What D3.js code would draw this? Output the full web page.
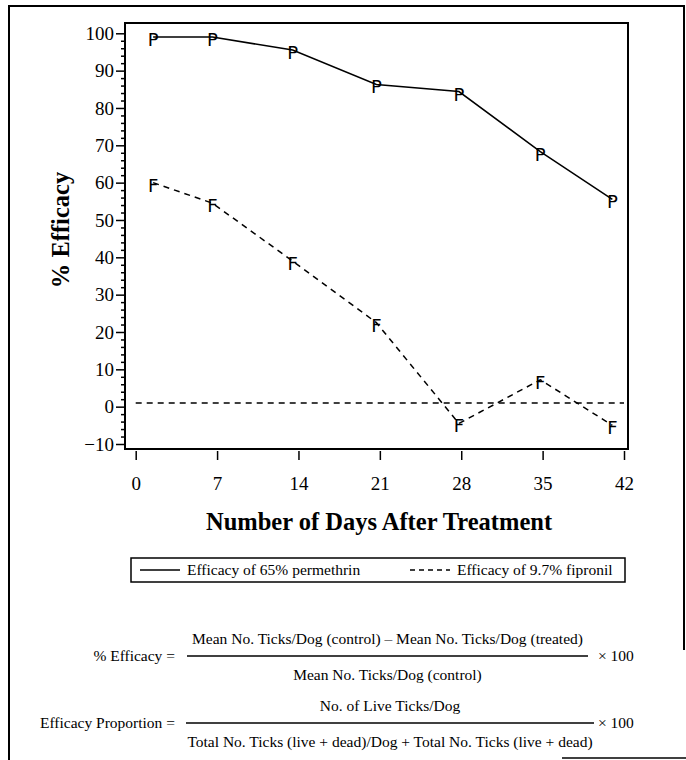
<!DOCTYPE html>
<meta charset="utf-8">
<style>
body {
	margin: 0;
	background: #fff;
}
svg text {
	font-family: "Liberation Serif", "DejaVu Serif", serif;
	fill: #000;
}
.frame {
	fill: none;
	stroke: #000;
	stroke-width: 2;
}
.axis text {
	font-size: 19px;
}
.axis line {
	stroke: #000;
	stroke-width: 1.5;
}
.axis path {
	display: none;
}
.title {
	font-size: 24.5px;
	font-weight: bold;
}
.series {
	fill: none;
	stroke: #000;
	stroke-width: 1.5;
}
.dashed {
	stroke-dasharray: 6, 5;
}
svg text.marker {
	font-family: "DejaVu Sans", sans-serif;
	font-size: 18px;
	text-anchor: middle;
}
.legend text, .formula text {
	font-size: 15.5px;
}
.bar {
	stroke: #000;
	stroke-width: 1.5;
}
</style>
<body>
<script src="https://d3js.org/d3.v7.min.js"></script>
<script>
	// values
	var days = [1.5, 6.6, 13.5, 20.7, 27.8, 34.8, 41];
	var permethrin = [99, 99, 95.5, 86.3, 84.4, 68.3, 55.5];
	var fipronil = [60, 54.5, 39, 22.5, -4.5, 7.2, -5];
	var refLevel = 1;
	var xTicks = [0, 7, 14, 21, 28, 35, 42];
	var yTicks = [-10, 0, 10, 20, 30, 40, 50, 60, 70, 80, 90, 100];
	var legendLabels = ["Efficacy of 65% permethrin", "Efficacy of 9.7% fipronil"];

	var width = 686,
		height = 760;

	var svg = d3.select("body").append("svg")
		.attr("width", width)
		.attr("height", height);

	var x = d3.scaleLinear().domain([0, 42]).range([135.7, 624]);
	var y = d3.scaleLinear().domain([-10, 100]).range([444, 33.3]);

	// outer border of the figure
	svg.append("path")
		.attr("class", "frame")
		.attr("d", "M9,760 V6 H684 V650");
	svg.append("line")
		.attr("class", "bar")
		.attr("x1", 562).attr("x2", 686)
		.attr("y1", 758).attr("y2", 758);

	// plot frame
	svg.append("rect")
		.attr("class", "frame")
		.attr("x", 125).attr("y", 23)
		.attr("width", 503).attr("height", 426);

	var minor = d3.range(-10, 100, 2).filter(function(v) { return v % 10 !== 0; });

	svg.append("g")
		.attr("class", "axis")
		.attr("transform", "translate(125,0)")
		.call(d3.axisLeft(y).tickValues(minor).tickSize(4).tickFormat(""));

	svg.append("g")
		.attr("class", "axis")
		.attr("transform", "translate(125,0)")
		.call(d3.axisLeft(y).tickValues(yTicks).tickSize(9).tickPadding(2));

	svg.append("g")
		.attr("class", "axis")
		.attr("transform", "translate(0,451)")
		.call(d3.axisBottom(x).tickValues(xTicks).tickSize(9).tickPadding(17));

	svg.append("text")
		.attr("class", "title")
		.attr("text-anchor", "middle")
		.attr("x", 379).attr("y", 530)
		.text("Number of Days After Treatment");

	svg.append("text")
		.attr("class", "title")
		.attr("text-anchor", "middle")
		.attr("transform", "translate(69,230) rotate(-90)")
		.text("% Efficacy");

	// reference line near zero
	svg.append("line")
		.attr("class", "series dashed")
		.attr("x1", x(0)).attr("x2", x(42))
		.attr("y1", y(refLevel)).attr("y2", y(refLevel));

	var line = d3.line()
		.x(function(d) { return x(d[0]); })
		.y(function(d) { return y(d[1]); });

	var pData = d3.zip(days, permethrin);
	var fData = d3.zip(days, fipronil);

	svg.append("path")
		.attr("class", "series")
		.attr("d", line(pData));
	svg.append("path")
		.attr("class", "series dashed")
		.attr("d", line(fData));

	[[pData, "P"], [fData, "F"]].forEach(function(s) {
		svg.append("g").selectAll("text")
			.data(s[0])
			.enter()
			.append("text")
			.attr("class", "marker")
			.attr("x", function(d) { return x(d[0]); })
			.attr("y", function(d) { return y(d[1]); })
			.attr("dy", "0.5em")
			.text(s[1]);
	});

	// legend
	var legend = svg.append("g").attr("class", "legend");
	legend.append("rect")
		.attr("class", "frame")
		.style("stroke-width", 1.5)
		.attr("x", 131).attr("y", 558)
		.attr("width", 494).attr("height", 24);
	legend.append("line")
		.attr("class", "series")
		.attr("x1", 140).attr("x2", 180)
		.attr("y1", 570).attr("y2", 570);
	legend.append("line")
		.attr("class", "series")
		.style("stroke-dasharray", "5,4")
		.attr("x1", 410).attr("x2", 450)
		.attr("y1", 570).attr("y2", 570);
	legend.append("text")
		.attr("x", 187).attr("y", 575)
		.text(legendLabels[0]);
	legend.append("text")
		.attr("x", 457).attr("y", 575)
		.text(legendLabels[1]);

	// formulas under the chart
	var formulas = [
		{label: "% Efficacy =", num: "Mean No. Ticks/Dog (control) \u2013 Mean No. Ticks/Dog (treated)",
		 den: "Mean No. Ticks/Dog (control)", bar: 656, x0: 187, x1: 588},
		{label: "Efficacy Proportion =", num: "No. of Live Ticks/Dog",
		 den: "Total No. Ticks (live + dead)/Dog + Total No. Ticks (live + dead)", bar: 723, x0: 186, x1: 594}
	];
	var fg = svg.append("g").attr("class", "formula");
	formulas.forEach(function(f) {
		var cx = (f.x0 + f.x1) / 2;
		fg.append("text")
			.attr("text-anchor", "end")
			.attr("x", 175).attr("y", f.bar + 5)
			.text(f.label);
		fg.append("line")
			.attr("class", "bar")
			.attr("x1", f.x0).attr("x2", f.x1)
			.attr("y1", f.bar).attr("y2", f.bar);
		fg.append("text")
			.attr("text-anchor", "middle")
			.attr("x", cx).attr("y", f.bar - 12)
			.text(f.num);
		fg.append("text")
			.attr("text-anchor", "middle")
			.attr("x", cx).attr("y", f.bar + 24)
			.text(f.den);
		fg.append("text")
			.attr("x", 598).attr("y", f.bar + 5)
			.text("\u00d7 100");
	});
</script>
</body>
